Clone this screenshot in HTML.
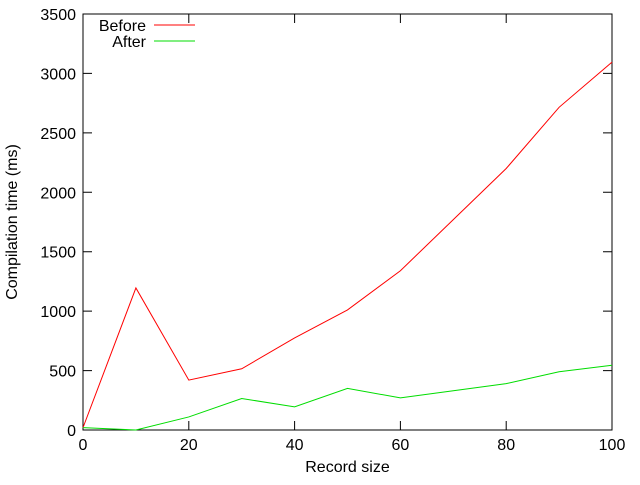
<!DOCTYPE html>
<html><head><meta charset="utf-8"><style>
body{margin:0;background:#fff;}
svg text{font-family:"Liberation Sans",sans-serif;font-size:16px;fill:#000;}
</style></head><body>
<svg id="chart" width="640" height="480"></svg>
<script>
const categories=[0,10,20,30,40,50,60,70,80,90,100];
const beforeValues=[20,1195,420,515,775,1010,1340,1770,2200,2715,3095];
const afterValues=[20,0,110,265,195,350,270,330,390,490,545];
const xTicks=[0,20,40,60,80,100];
const yTicks=[0,500,1000,1500,2000,2500,3000,3500];
const NS="http://www.w3.org/2000/svg";
const svg=document.getElementById('chart');
const L=83,R=612,T=14,B=430;
const xs=v=>L+(v-0)/100*(R-L);
const ys=v=>B-v/3500*(B-T);
function mk(tag,attrs,parent){const e=document.createElementNS(NS,tag);for(const k in attrs)e.setAttribute(k,attrs[k]);(parent||svg).appendChild(e);return e;}
const frame=mk('rect',{x:L,y:T,width:R-L,height:B-T,fill:'none',stroke:'#000','stroke-width':1});


yTicks.forEach(v=>{
  const y=ys(v);
  const t=mk('path',{d:`M${L} ${y}h9M${R} ${y}h-9`,stroke:'#000'});
  
  
  const tx=mk('text',{x:L-7,y:y+6,'text-anchor':'end'});tx.textContent=v;
  
  
});
xTicks.forEach(v=>{
  const x=xs(v);
  const t=mk('path',{d:`M${x} ${B}v-9M${x} ${T}v9`,stroke:'#000'});
  
  
  const tx=mk('text',{x:x,y:B+20,'text-anchor':'middle'});tx.textContent=v;
  
  
});
const xt=mk('text',{x:(L+R)/2,y:472,'text-anchor':'middle'});xt.textContent='Record size';


const yt=mk('text',{x:17,y:(T+B)/2,'text-anchor':'middle',transform:`rotate(-90 17 ${(T+B)/2})`});yt.textContent='Compilation time (ms)';


function series(vals,color,name){
  const p=mk('polyline',{points:vals.map((v,i)=>xs(categories[i])+','+ys(v)).join(' '),fill:'none',stroke:color,'stroke-width':1});
  
  
}
series(beforeValues,'#ff0000','before-line');
series(afterValues,'#00dd00','after-line');
[['Before','#ff0000',25],['After','#00dd00',41]].forEach(([n,c,y])=>{
  const tx=mk('text',{x:146,y:y+6,'text-anchor':'end'});tx.textContent=n;
  
  
  const l=mk('line',{x1:154,x2:195,y1:y,y2:y,stroke:c});
  
  
});
</script>
</body></html>
